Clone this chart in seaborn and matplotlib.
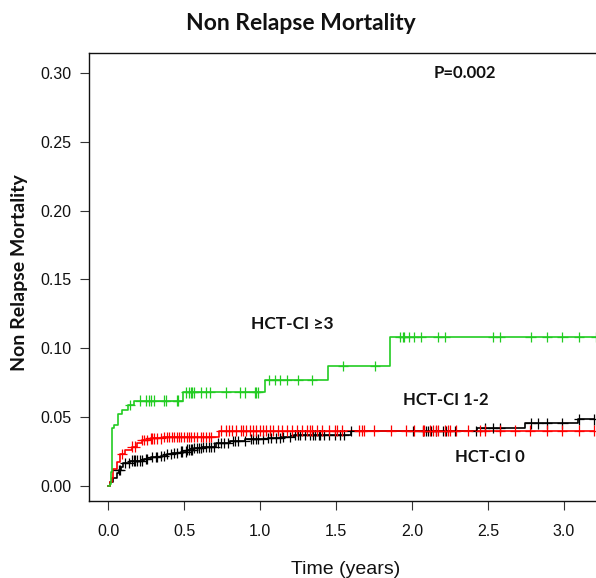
import numpy as np
import pandas as pd
import matplotlib
matplotlib.use("Agg")
import matplotlib.pyplot as plt
import seaborn as sns

# ---------------- data ----------------
groups = ["HCT-CI 0", "HCT-CI 1-2", "HCT-CI \u22653"]
colors = ["#000000", "#ff0000", "#22cc22"]

# step (event) times and cumulative incidence
g0_times = [0.0, 0.015, 0.035, 0.058, 0.069, 0.084, 0.100, 0.146, 0.234, 0.279, 0.345, 0.389,
            0.422, 0.478, 0.522, 0.566, 0.620, 0.710, 0.800, 0.900, 1.050, 1.140, 1.220, 1.600,
            2.430, 2.745, 3.090]
g0_vals = [0.0, 0.003, 0.006, 0.0094, 0.0116, 0.014, 0.0165, 0.0185, 0.0195, 0.021, 0.022, 0.023,
           0.024, 0.025, 0.0265, 0.0275, 0.0285, 0.031, 0.0328, 0.034, 0.0348, 0.0358, 0.037, 0.0398,
           0.042, 0.0455, 0.0484]

g1_times = [0.0, 0.015, 0.025, 0.035, 0.058, 0.080, 0.113, 0.157, 0.190, 0.224, 0.279, 0.360, 0.730]
g1_vals = [0.0, 0.003, 0.0058, 0.012, 0.0177, 0.0232, 0.026, 0.0286, 0.031, 0.0334, 0.0346, 0.0358, 0.0402]

g3_times = [0.0, 0.009, 0.018, 0.025, 0.028, 0.040, 0.062, 0.090, 0.130, 0.170, 0.490, 1.030, 1.450, 1.856]
g3_vals = [0.0, 0.0015, 0.010, 0.031, 0.042, 0.044, 0.052, 0.055, 0.059, 0.062, 0.068, 0.077, 0.087, 0.108]

# censoring times
g0_cens = [0.069, 0.080, 0.113, 0.135, 0.157, 0.168, 0.179, 0.190, 0.212, 0.224, 0.246, 0.257,
           0.290, 0.312, 0.323, 0.345, 0.367, 0.389, 0.411, 0.434, 0.456, 0.478, 0.489, 0.511,
           0.522, 0.533, 0.544, 0.555, 0.566, 0.588, 0.599, 0.610, 0.626, 0.644, 0.666, 0.677,
           0.699, 0.721, 0.743, 0.765, 0.788, 0.821, 0.832, 0.854, 0.898, 0.942, 0.954, 0.975,
           0.987, 1.020, 1.053, 1.075, 1.108, 1.130, 1.153, 1.197, 1.230, 1.248, 1.263, 1.296,
           1.329, 1.345, 1.363, 1.385, 1.396, 1.418, 1.451, 1.495, 1.528, 1.551, 1.601, 2.004,
           2.070, 2.092, 2.104, 2.125, 2.159, 2.203, 2.225, 2.281, 2.424, 2.480, 2.535, 2.580,
           2.780, 2.830, 2.890, 2.990, 3.100, 3.200]
g1_cens = [0.091, 0.157, 0.179, 0.224, 0.234, 0.257, 0.279, 0.290, 0.301, 0.323, 0.345, 0.367,
           0.389, 0.400, 0.423, 0.434, 0.456, 0.467, 0.478, 0.500, 0.522, 0.533, 0.544, 0.566,
           0.588, 0.610, 0.622, 0.644, 0.661, 0.677, 0.743, 0.776, 0.798, 0.816, 0.843, 0.876,
           0.887, 0.909, 0.931, 0.954, 0.975, 0.997, 1.020, 1.042, 1.064, 1.086, 1.119, 1.141,
           1.175, 1.208, 1.241, 1.274, 1.307, 1.329, 1.340, 1.374, 1.407, 1.451, 1.495, 1.506,
           1.539, 1.650, 1.672, 1.683, 1.750, 1.860, 1.960, 2.015, 2.070, 2.082, 2.115, 2.137,
           2.159, 2.170, 2.214, 2.236, 2.248, 2.291, 2.369, 2.447, 2.480, 2.579, 2.679, 2.778,
           2.889, 2.989, 3.099, 3.198]
g3_cens = [0.146, 0.212, 0.246, 0.267, 0.283, 0.301, 0.367, 0.383, 0.451, 0.460, 0.511, 0.531,
           0.544, 0.555, 0.566, 0.610, 0.644, 0.670, 0.776, 0.865, 0.898, 0.964, 0.975, 0.987,
           1.060, 1.095, 1.128, 1.175, 1.248, 1.340, 1.544, 1.754, 1.924, 1.940, 1.950, 1.980,
           2.015, 2.060, 2.170, 2.214, 2.535, 2.580, 2.780, 2.890, 2.990, 3.100, 3.210]

x_ticks = [0.0, 0.5, 1.0, 1.5, 2.0, 2.5, 3.0]
x_ticklabels = ["0.0", "0.5", "1.0", "1.5", "2.0", "2.5", "3.0"]
y_ticks = [0.00, 0.05, 0.10, 0.15, 0.20, 0.25, 0.30]
y_ticklabels = ["0.00", "0.05", "0.10", "0.15", "0.20", "0.25", "0.30"]

# ---------------- build tables ----------------
steps = []
cens = []
for name, t, v, c in [(groups[0], g0_times, g0_vals, g0_cens),
                      (groups[1], g1_times, g1_vals, g1_cens),
                      (groups[2], g3_times, g3_vals, g3_cens)]:
    t = np.asarray(t); v = np.asarray(v); c = np.asarray(c)
    tt = np.append(t, c.max())
    vv = np.append(v, v[-1])
    steps.append(pd.DataFrame({"time": tt, "cif": vv, "group": name}))
    idx = np.searchsorted(t, c, side="right") - 1
    cens.append(pd.DataFrame({"time": c, "cif": v[idx], "group": name}))
steps = pd.concat(steps, ignore_index=True)
cens = pd.concat(cens, ignore_index=True)
palette = dict(zip(groups, colors))

# ---------------- plot ----------------
sns.set_style("white")
plt.rcParams["font.family"] = ["Liberation Sans", "DejaVu Sans"]

W, H = 596, 578
fig = plt.figure(figsize=(W / 100, H / 100), dpi=100)
ax = fig.add_axes([89 / W, 77 / H, 1.0 - 89 / W + 0.01, (501 - 53) / H])

sns.lineplot(data=steps, x="time", y="cif", hue="group", palette=palette,
             drawstyle="steps-post", estimator=None, sort=False, legend=False,
             linewidth=1.2, ax=ax)
sns.scatterplot(data=cens, x="time", y="cif", hue="group", palette=palette,
                marker="+", s=55, linewidth=0.9, legend=False, ax=ax, zorder=3)

ax.set_xlim(-0.126, 3.25)
ax.set_ylim(-0.0109, 0.3145)
ax.set_xticks(x_ticks)
ax.set_xticklabels(x_ticklabels)
ax.set_yticks(y_ticks)
ax.set_yticklabels(y_ticklabels)
ax.tick_params(axis="both", direction="out", length=6.5, width=0.8, color="#333333",
               labelsize=11.5, labelcolor="#111111", left=True, bottom=True)
ax.tick_params(axis="x", pad=10)
ax.tick_params(axis="y", pad=6)
for s in ["left", "bottom", "top"]:
    ax.spines[s].set_color("#111111")
    ax.spines[s].set_linewidth(1.0)
ax.spines["right"].set_visible(False)

ax.set_xlabel("Time (years)", fontsize=14, color="#111111", labelpad=16)
ax.set_ylabel("")

bold = dict(family=["Lato", "DejaVu Sans"], fontweight="bold", color="#111111")
fig.text(20 / W, 1 - 273 / H, "Non Relapse Mortality", rotation=90, ha="center", va="center",
         fontsize=14, **bold)
fig.text(301 / W, 1 - 23 / H, "Non Relapse Mortality", ha="center", va="center",
         fontsize=16.5, **bold)

ax.text(2.14, 0.300, "P=0.002", ha="left", va="center", fontsize=12, **bold)
ax.text(0.94, 0.118, "HCT-CI \u22653", ha="left", va="center", fontsize=12.5, **bold)
ax.text(1.94, 0.0625, "HCT-CI 1-2", ha="left", va="center", fontsize=12, **bold)
ax.text(2.28, 0.021, "HCT-CI 0", ha="left", va="center", fontsize=12, **bold)

fig.savefig("out.png", dpi=100)
